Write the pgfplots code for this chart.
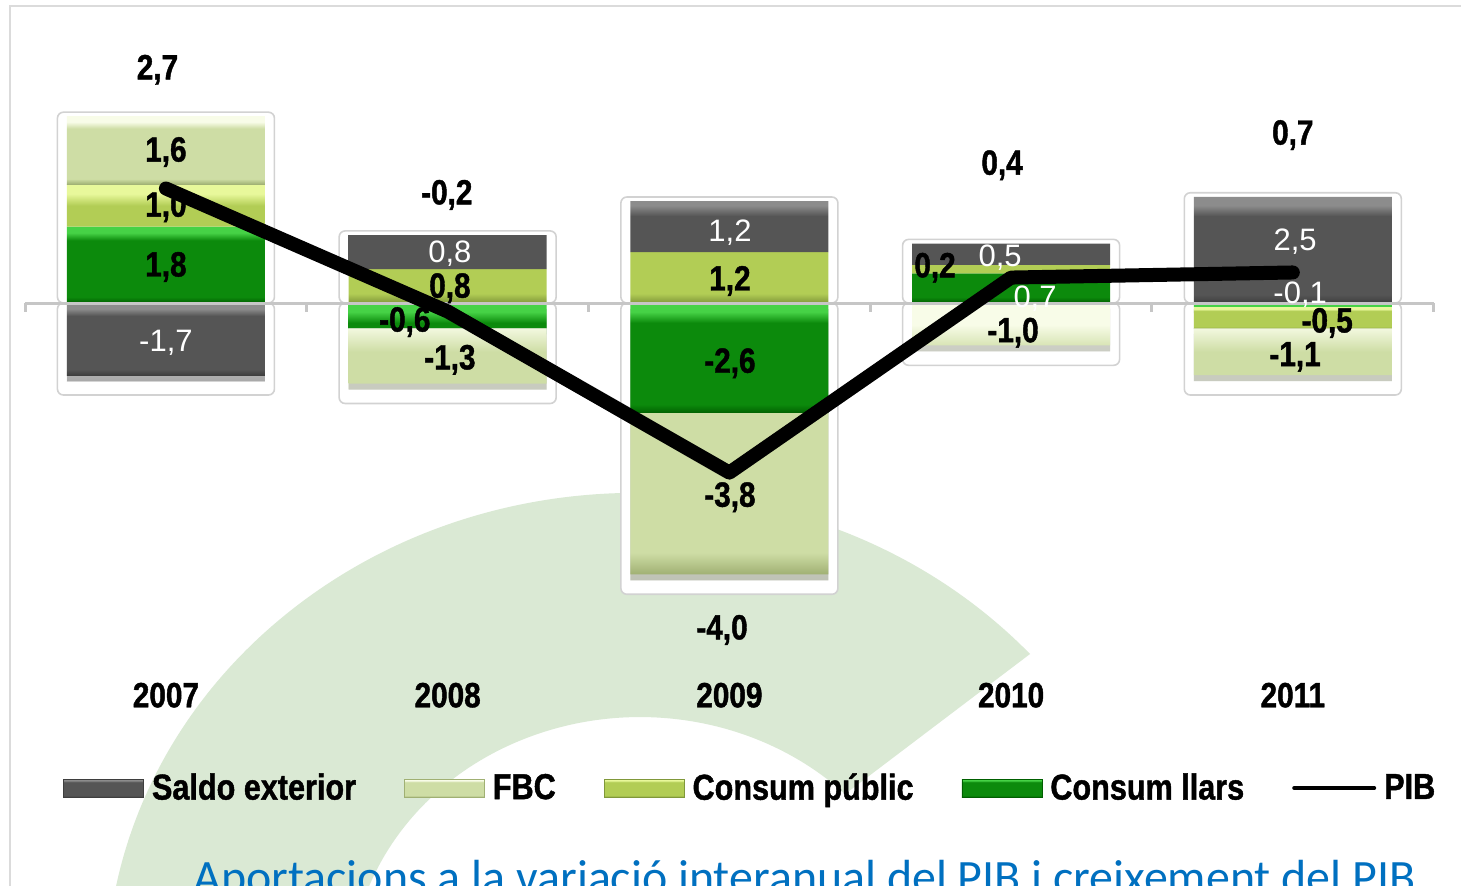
\documentclass[border=0pt]{standalone}
\usepackage{pgfplots}
\pgfplotsset{compat=1.18}
\usepackage{pgfplotstable}
\usepackage{graphicx}
\usepackage{fontspec}
\setmainfont{Liberation Sans}
\newfontfamily\cnd{Liberation Sans}[FakeStretch=0.85, BoldFeatures={FakeBold=1.2}]
\newfontfamily\capfont{Carlito}
\usetikzlibrary{shadows}

\definecolor{salB}{RGB}{85,85,85}\definecolor{salT}{RGB}{140,140,140}\definecolor{salD}{RGB}{62,62,62}
\definecolor{fbcB}{RGB}{206,221,165}\definecolor{fbcT}{RGB}{248,252,232}\definecolor{fbcD}{RGB}{160,176,115}
\definecolor{pubB}{RGB}{178,205,85}\definecolor{pubT}{RGB}{232,248,155}\definecolor{pubD}{RGB}{128,152,58}
\definecolor{llaB}{RGB}{12,138,12}\definecolor{llaT}{RGB}{70,210,70}\definecolor{llaD}{RGB}{0,95,0}
\definecolor{wm}{RGB}{218,233,212}
\definecolor{capblue}{RGB}{0,112,192}

% visible part of a tikz shading is 25bp..75bp
\pgfdeclareverticalshading{salSh}{100bp}{color(0bp)=(salD); color(25bp)=(salD); color(29bp)=(salB); color(66bp)=(salB); color(71bp)=(salT); color(100bp)=(salT)}
\pgfdeclareverticalshading{fbcSh}{100bp}{color(0bp)=(fbcD); color(25bp)=(fbcD); color(29bp)=(fbcB); color(66bp)=(fbcB); color(71bp)=(fbcT); color(100bp)=(fbcT)}
\pgfdeclareverticalshading{pubSh}{100bp}{color(0bp)=(pubD); color(25bp)=(pubD); color(29bp)=(pubB); color(66bp)=(pubB); color(71bp)=(pubT); color(100bp)=(pubT)}
\pgfdeclareverticalshading{llaSh}{100bp}{color(0bp)=(llaD); color(25bp)=(llaD); color(29bp)=(llaB); color(66bp)=(llaB); color(71bp)=(llaT); color(100bp)=(llaT)}

\pgfplotstableread{
x llars pub fbc saldo
0 1.8 1.0 1.6 0
1 0 0.8 0 0.8
2 0 1.2 0 1.2
3 0.7 0.2 0 0.5
4 0 0 0 2.5
}\postab
\pgfplotstableread{
x llars pub fbc saldo
0 0 0 0 -1.7
1 -0.6 0 -1.3 0
2 -2.6 0 -3.8 0
3 0 0 -1.0 0
4 -0.1 -0.5 -1.1 0
}\negtab
\pgfplotstableread{
x pib
0 2.7
1 -0.2
2 -4.0
3 0.6
4 0.72
}\pibtab

\pgfplotsset{
  base/.style={scale only axis, width=730.5pt, height=442.5pt,
    xmin=-0.589, xmax=4.597, ymin=-13.726, ymax=7.146,
    hide axis, clip=false, at={(0pt,0pt)}, anchor=south west},
  salS/.style={shade, shading=salSh, draw=none},
  fbcS/.style={shade, shading=fbcSh, draw=none},
  pubS/.style={shade, shading=pubSh, draw=none},
  llaS/.style={shade, shading=llaSh, draw=none},
  shad/.style={drop shadow={shadow xshift=0pt, shadow yshift=-3pt, opacity=0.22, fill=black}},
}
\newcommand\lb{\cnd\bfseries\fontsize{17.5}{20}\selectfont}
\newcommand\lw{\fontsize{15.5}{18}\selectfont\color{white}}

\begin{document}
\begin{tikzpicture}
\useasboundingbox (0pt,0pt) rectangle (730.5pt,442.5pt);
\clip (0pt,0pt) rectangle (730.5pt,442.5pt);
\fill[white] (0pt,0pt) rectangle (730.5pt,442.5pt);
\begin{scope}[x=0.5pt,y=-0.5pt,shift={(0pt,442.5pt)}]
  \fill[wm] (1030,654) arc[start angle=-42, end angle=-200, x radius=530, y radius=487]
     -- (367.5,1070) arc[start angle=-200, end angle=-45, x radius=290, y radius=263] -- cycle;
  \draw[gray!28, line width=1pt] (10,900) -- (10,6) -- (1470,6);
  \node[anchor=base west, text=capblue, inner sep=0pt] at (193,893)
    {\resizebox{611pt}{!}{\capfont\fontsize{20}{24}\selectfont Aportacions a la variació interanual del PIB i creixement del PIB}};
\end{scope}

% frames around the bars
\begin{axis}[base, ybar, bar width=108.5pt]
\addplot[bar shift=0pt, fill=white, draw=gray!35, line width=0.8pt, rounded corners=3pt]
  coordinates {(0,4.5) (1,1.7) (2,2.5) (3,1.5) (4,2.6)};
\addplot[bar shift=0pt, fill=white, draw=gray!35, line width=0.8pt, rounded corners=3pt]
  coordinates {(0,-2.17) (1,-2.37) (2,-6.87) (3,-1.47) (4,-2.17)};
\end{axis}

% positive contributions
\begin{axis}[base, ybar stacked, reverse stacked plots=false, bar width=99pt]
\addplot[llaS] table[x=x,y=llars]{\postab};
\addplot[pubS] table[x=x,y=pub]{\postab};
\addplot[fbcS] table[x=x,y=fbc]{\postab};
\addplot[salS] table[x=x,y=saldo]{\postab};
\end{axis}

% negative contributions
\begin{axis}[base, ybar stacked, reverse stacked plots=false, bar width=99pt]
\addplot[llaS, shad] table[x=x,y=llars]{\negtab};
\addplot[pubS, shad] table[x=x,y=pub]{\negtab};
\addplot[fbcS, shad] table[x=x,y=fbc]{\negtab};
\addplot[salS, shad] table[x=x,y=saldo]{\negtab};
\end{axis}

% zero line, labels, PIB line, legend
\begin{axis}[base,
  legend columns=5,
  legend style={at={(rel axis cs:0.043,0.1096)}, anchor=west, draw=none, fill=none,
    font=\cnd\bfseries\fontsize{18}{20}\selectfont, inner sep=0pt,
    /tikz/every odd column/.append style={column sep=2pt},
    /tikz/every even column/.append style={column sep=22pt}},
  legend image code/.code={\draw[#1] (0pt,-4.5pt) rectangle (40pt,4.5pt);}]
\addplot[ycomb, gray!45, line width=1.5pt, mark=none, forget plot]
  coordinates {(-0.5,-0.22) (0.5,-0.22) (1.5,-0.22) (2.5,-0.22) (3.5,-0.22) (4.5,-0.22)};
\addplot[gray!45, line width=1.5pt, forget plot] coordinates {(-0.5,0) (4.5,0)};

% labels 2007
\node[font=\lb] at (axis cs:0,3.56) {1,6};
\node[font=\lb] at (axis cs:0,2.26) {1,0};
\node[font=\lb] at (axis cs:0,0.85) {1,8};
\node at (axis cs:0,-0.94) {\lw -1,7};
\node[font=\lb] at (axis cs:-0.03,5.5) {2,7};
% 2008
\node at (axis cs:1.008,1.16) {\lw 0,8};
\node[font=\lb] at (axis cs:1.008,0.35) {0,8};
\node[font=\lb] at (axis cs:0.848,-0.45) {-0,6};
\node[font=\lb] at (axis cs:1.008,-1.34) {-1,3};
\node[font=\lb] at (axis cs:0.997,2.55) {-0,2};
% 2009
\node at (axis cs:2.002,1.65) {\lw 1,2};
\node[font=\lb] at (axis cs:2.002,0.52) {1,2};
\node[font=\lb] at (axis cs:2.002,-1.42) {-2,6};
\node[font=\lb] at (axis cs:2.002,-4.58) {-3,8};
\node[font=\lb] at (axis cs:1.974,-7.71) {-4,0};
% 2010
\node[font=\lb] at (axis cs:2.73,0.83) {0,2};
\node at (axis cs:2.961,1.06) {\lw 0,5};
\node at (axis cs:3.085,0.1) {\lw 0,7};
\node[font=\lb] at (axis cs:3.007,-0.7) {-1,0};
\node[font=\lb] at (axis cs:2.968,3.25) {0,4};
% 2011
\node at (axis cs:4.026,0.2) {\lw -0,1};
\node at (axis cs:4.008,1.44) {\lw 2,5};
\node[font=\lb] at (axis cs:4.122,-0.47) {-0,5};
\node[font=\lb] at (axis cs:4.008,-1.27) {-1,1};
\node[font=\lb] at (axis cs:4.0,3.96) {0,7};
% years
\node[font=\lb] at (axis cs:0,-9.25) {2007};
\node[font=\lb] at (axis cs:1,-9.25) {2008};
\node[font=\lb] at (axis cs:2,-9.25) {2009};
\node[font=\lb] at (axis cs:3,-9.25) {2010};
\node[font=\lb] at (axis cs:4,-9.25) {2011};

\addplot[black, line width=7pt, line join=round, line cap=round, forget plot] table[x=x,y=pib]{\pibtab};

\addlegendimage{salS, draw=salD}
\addlegendentry{Saldo exterior}
\addlegendimage{fbcS, draw=fbcD}
\addlegendentry{FBC}
\addlegendimage{pubS, draw=pubD}
\addlegendentry{Consum públic}
\addlegendimage{llaS, draw=llaD}
\addlegendentry{Consum llars}
\addlegendimage{legend image code/.code={\draw[black, line width=2pt, line cap=round] (0pt,0pt) -- (40pt,0pt);}}
\addlegendentry{PIB}
\end{axis}
\end{tikzpicture}
\end{document}
